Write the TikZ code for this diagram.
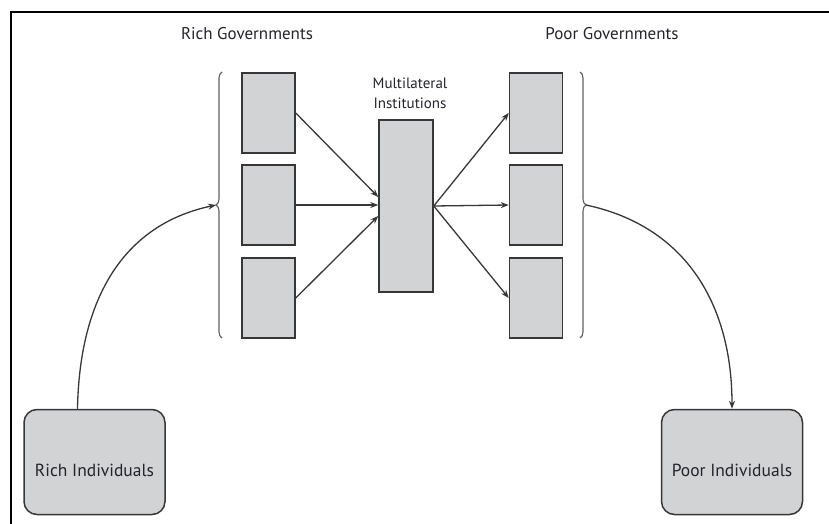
\documentclass[tikz,border=0pt]{standalone}
\usepackage{fontspec}
\setmainfont{PT Sans}
\usepackage{tikz}
\usetikzlibrary{arrows.meta,decorations.pathreplacing}
\definecolor{boxgray}{RGB}{210,211,213}
\definecolor{linegray}{RGB}{55,55,55}
\definecolor{textgray}{RGB}{35,35,45}
\tikzset{
  govbox/.style={draw=linegray,fill=boxgray,line width=1.5pt,minimum width=53pt,minimum height=80pt,inner sep=0pt},
  indbox/.style={draw=linegray,fill=boxgray,line width=1.5pt,rounded corners=13pt,minimum width=141pt,minimum height=105pt,inner sep=0pt,text=textgray,font=\fontsize{17.5}{20}\selectfont,text height=32pt,text depth=4pt},
  flow/.style={draw=linegray,line width=1.3pt,-{Stealth[length=8pt,width=6pt]}},
  bracket/.style={draw=linegray!80,line width=1.1pt,decorate,decoration={brace,amplitude=6pt}},
  heading/.style={text=textgray,font=\fontsize{17}{20}\selectfont}
}
\begin{document}
\begin{tikzpicture}[x=1pt,y=-1pt]
            \useasboundingbox (0,0) rectangle (829,524);
            % frame
            \draw [black,line width=2.4pt] (829,12) -- (11,12) -- (11,524);
            % headings
            \node [heading] (rgtitle) at (247,34) {Rich Governments};
            \node [heading] (pgtitle) at (612,34) {Poor Governments};
            \node [text=textgray,font=\fontsize{15}{20}\selectfont,align=center] (mititle) at (410,93) {Multilateral\\Institutions};
            % government boxes
            \node [govbox] (rg1) at (268.5,113) {};
            \node [govbox] (rg2) at (268.5,205) {};
            \node [govbox] (rg3) at (268.5,298) {};
            \node [govbox] (pg1) at (536,113) {};
            \node [govbox] (pg2) at (536,205) {};
            \node [govbox] (pg3) at (536,298) {};
            \node [govbox,minimum width=54pt,minimum height=172pt] (mi) at (406,206) {};
            % individuals
            \node [indbox] (ri) at (94.5,462) {Rich Individuals};
            \node [indbox] (pi) at (732,462) {Poor Individuals};
            % braces
            \coordinate (lbbot) at (222,338);
            \coordinate (lbtop) at (222,72);
            \coordinate (rbtop) at (580,72);
            \coordinate (rbbot) at (580,338);
            \coordinate (lbtip) at (216,205);
            \coordinate (rbtip) at (586,205);
            \draw [bracket] (lbbot) -- (lbtop);
            \draw [bracket] (rbtop) -- (rbbot);
            % flows into the institutions
            \draw [flow] (rg1.east) -- ([yshift=9pt]mi.west);
            \draw [flow] (rg2.east) -- (rg2.east -| mi.west);
            \draw [flow] (rg3.east) -- ([yshift=-10pt]mi.west);
            % flows out to poor governments
            \draw [flow] (mi.east) -- (pg1.west);
            \draw [flow] (mi.east) -- (pg2.west);
            \draw [flow] (mi.east) -- (pg3.west);
            % individuals to governments
            \draw [flow] ([xshift=-17pt]ri.north) to [out=89,in=192,looseness=1.05] (lbtip);
            \draw [flow] (rbtip) to [out=-12,in=90,looseness=1.05] (pi.north);
\end{tikzpicture}
\end{document}
